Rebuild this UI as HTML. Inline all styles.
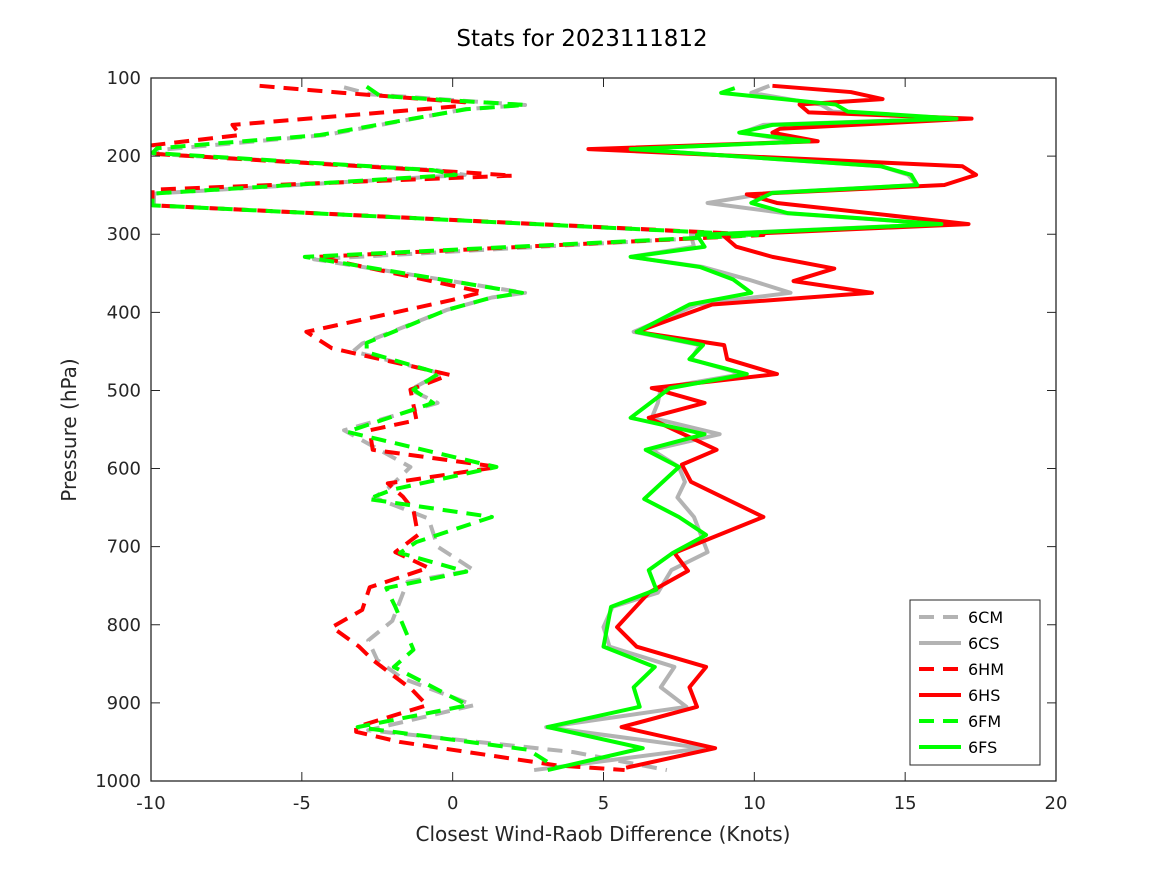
<!DOCTYPE html>
<html><head><meta charset="utf-8"><style>
html,body{margin:0;padding:0;background:#fff;}
svg{display:block;font-family:"DejaVu Sans","Liberation Sans",sans-serif;}
</style></head><body>
<svg id="chart" width="1167" height="875" xmlns="http://www.w3.org/2000/svg">
<rect width="1167" height="875" fill="#fff"/>
<text x="582" y="46" font-size="23" text-anchor="middle" fill="#000">Stats for 2023111812</text>
<defs><clipPath id="clip"><rect x="151" y="78" width="905" height="703"/></clipPath></defs>
<g id="series" clip-path="url(#clip)"></g>
<rect x="151" y="78" width="905" height="703" fill="none" stroke="#262626" stroke-width="1.3"/>
<g id="axes"></g>
<text x="603" y="841" font-size="20" text-anchor="middle" fill="#262626">Closest Wind-Raob Difference (Knots)</text>
<text transform="translate(76,430) rotate(-90)" font-size="20" text-anchor="middle" fill="#262626">Pressure (hPa)</text>
<g id="legend"></g>
</svg>
<script>
const xTicks=[-10,-5,0,5,10,15,20];
const yTicks=[100,200,300,400,500,600,700,800,900,1000];
const seriesNames=["6CM","6CS","6HM","6HS","6FM","6FS"];
const s6CM=[[-3.6,112],[-2.7,121],[2.4,134.5],[0.4,140],[-4.2,173],[-9.7,192],[-9.9,197],[-0.5,218],[0.4,224],[-9.9,248],[-9.9,263],[10,301],[-4.6,332],[2.4,375],[1.3,381],[-0.2,397],[-3.0,440],[-3.3,450],[-0.4,478],[-1.4,499],[-0.5,516],[-3.6,551],[-1.4,598],[-2.1,624],[-2.6,637],[-0.8,664],[-0.5,700],[0.7,730],[-1.5,745],[-2.0,795],[-2.8,820],[-2.5,845],[-1.7,868],[0.7,903],[-2.8,935],[4.0,963],[7.1,986]];
const s6CS=[[10.5,110],[9.9,119],[12.2,134],[12.6,143],[16.5,152],[10.3,160],[9.6,170],[10.4,175],[11.6,181],[5.9,191],[14.2,213],[15.1,224],[15.4,237],[10.5,247],[8.45,260],[11.0,273],[16.2,287],[7.9,301],[8.0,316],[5.9,329],[8.3,342],[9.8,358],[11.2,375],[8.1,390],[6.0,425],[8.2,442],[7.9,460],[9.6,479],[6.9,497],[6.8,516],[6.6,535],[8.85,556],[6.6,576],[7.5,598],[7.7,617],[7.45,637],[8.0,662],[8.45,707],[7.25,730],[6.8,759],[5.3,777],[5.0,803],[5.2,828],[7.35,854],[6.9,880],[7.75,905],[3.1,931],[8.3,958],[2.7,986]];
const s6HM=[[-6.4,110],[-3.65,119],[0.4,131],[0.23,136],[-7.3,160],[-7.05,173],[-9.95,186],[-9.95,197],[-6.5,205],[0.45,221],[2.0,225],[-9.95,243],[-9.95,263],[10.3,301],[-4.5,329],[1.0,374],[0,384],[-4.85,425],[-4.0,446],[-0.1,480],[-1.4,499],[-1.2,538],[-2.75,551],[-2.65,576],[1.5,598],[-2.15,619],[-1.65,636],[-1.3,653],[-1.15,685],[-1.9,707],[-0.8,727],[-2.75,752],[-3.0,781],[-4.0,803],[-3.1,828],[-2.65,845],[-1.35,883],[-0.85,903],[-3.2,931],[-3.2,937],[-1.75,950],[3.45,980],[5.7,986]];
const s6HS=[[10.6,110],[13.2,118],[14.25,127],[11.5,134],[11.8,144],[17.2,152],[10.85,165],[10.6,170],[12.1,181],[4.5,191],[16.9,213],[17.35,224],[16.3,237],[9.75,249],[10.75,260],[17.1,287],[8.95,301],[9.4,316],[10.6,329],[12.65,344],[11.3,360],[13.9,375],[8.6,390],[6.1,425],[9.0,442],[9.1,460],[10.75,479],[6.6,497],[8.35,516],[6.5,535],[8.75,576],[7.6,595],[7.9,617],[10.3,662],[7.35,708],[7.8,731],[6.5,759],[5.45,803],[6.1,828],[8.4,854],[7.85,880],[8.1,905],[5.6,931],[8.7,958],[5.75,983]];
const s6FM=[[-2.85,111],[-2.4,123],[2.4,134.5],[0.45,140],[-4.4,173],[-9.8,190],[-9.95,196],[-0.65,218],[0.1,224],[-9.95,248],[-9.95,263],[10.1,301],[-4.9,329],[2.3,375],[1.2,382],[-0.2,397],[-2.85,439],[-2.85,451],[-0.45,478],[-1.3,499],[-0.65,516],[-3.5,553],[1.45,598],[-2.0,627],[-2.8,639],[1.3,662],[-1.2,694],[-1.75,708],[0.45,732],[-2.2,753],[-1.9,777],[-1.3,832],[-1.95,854],[0.5,903],[-3.15,931],[2.5,960],[3.45,983]];
const s6FS=[[9.35,113],[8.9,119],[12.7,134],[13.1,143],[16.7,152],[10.6,160],[9.5,170],[10.6,175],[11.8,181],[5.9,191],[14.2,213],[15.2,224],[15.4,237],[10.6,247],[9.9,260],[11.1,273],[16.2,287],[8.1,301],[8.35,316],[5.9,329],[8.2,342],[9.3,358],[9.9,375],[7.85,390],[6.1,425],[8.3,442],[7.85,460],[9.75,479],[7.2,497],[5.9,535],[8.35,556],[6.4,576],[7.5,598],[6.35,639],[7.5,662],[8.4,685],[7.3,708],[6.5,730],[6.75,755],[5.25,777],[5.0,828],[6.7,854],[6.0,880],[6.2,905],[3.15,931],[6.3,958],[3.15,986]];

const X0=151,X1=1056,Y0=78,Y1=781;
function xs(v){return X0+(v+10)/30*(X1-X0);}
function ys(p){return Y0+(p-100)/900*(Y1-Y0);}
const NS="http://www.w3.org/2000/svg";
const axes=document.getElementById('axes');
xTicks.forEach(t=>{
  const x=xs(t);
  const l1=document.createElementNS(NS,'path');
  l1.setAttribute('d',`M${x},${Y1}v-9M${x},${Y0}v9`);
  l1.setAttribute('stroke','#262626');
  
  
  axes.appendChild(l1);
  const tx=document.createElementNS(NS,'text');
  tx.setAttribute('x',x);tx.setAttribute('y',Y1+28);
  tx.setAttribute('font-size','18');tx.setAttribute('text-anchor','middle');tx.setAttribute('fill','#262626');
  
  
  tx.textContent=t;axes.appendChild(tx);
});
yTicks.forEach(t=>{
  const y=ys(t);
  const l1=document.createElementNS(NS,'path');
  l1.setAttribute('d',`M${X0},${y}h9M${X1},${y}h-9`);
  l1.setAttribute('stroke','#262626');
  
  
  axes.appendChild(l1);
  const tx=document.createElementNS(NS,'text');
  tx.setAttribute('x',X0-10);tx.setAttribute('y',y+6);
  tx.setAttribute('font-size','18');tx.setAttribute('text-anchor','end');tx.setAttribute('fill','#262626');
  
  
  tx.textContent=t;axes.appendChild(tx);
});
const sData=[s6CM,s6CS,s6HM,s6HS,s6FM,s6FS];
const colors=["#b3b3b3","#b3b3b3","#ff0000","#ff0000","#00ff00","#00ff00"];
const dashed=[true,false,true,false,true,false];
const sg=document.getElementById('series');
sData.forEach((d,i)=>{
  const pl=document.createElementNS(NS,'polyline');
  pl.setAttribute('points',d.map(p=>xs(p[0])+','+ys(p[1])).join(' '));
  pl.setAttribute('fill','none');pl.setAttribute('stroke',colors[i]);pl.setAttribute('stroke-width','4');
  pl.setAttribute('stroke-linejoin','round');
  if(dashed[i])pl.setAttribute('stroke-dasharray','15,9');
  
  
  sg.appendChild(pl);
});
const lg=document.getElementById('legend');
const box=document.createElementNS(NS,'rect');
box.setAttribute('x',910);box.setAttribute('y',600);box.setAttribute('width',130);box.setAttribute('height',165);
box.setAttribute('fill','#fff');box.setAttribute('stroke','#262626');


lg.appendChild(box);
seriesNames.forEach((n,i)=>{
  const y=617+i*26;
  const g=document.createElementNS(NS,'g');
  
  
  const l=document.createElementNS(NS,'line');
  l.setAttribute('x1',919);l.setAttribute('x2',961);l.setAttribute('y1',y);l.setAttribute('y2',y);
  l.setAttribute('stroke',colors[i]);l.setAttribute('stroke-width','4');
  if(dashed[i])l.setAttribute('stroke-dasharray','15,9');
  g.appendChild(l);
  const t=document.createElementNS(NS,'text');
  t.setAttribute('x',968);t.setAttribute('y',y+6);t.setAttribute('font-size','16');t.setAttribute('fill','#000');
  t.textContent=n;g.appendChild(t);
  lg.appendChild(g);
});
</script>
</body></html>
